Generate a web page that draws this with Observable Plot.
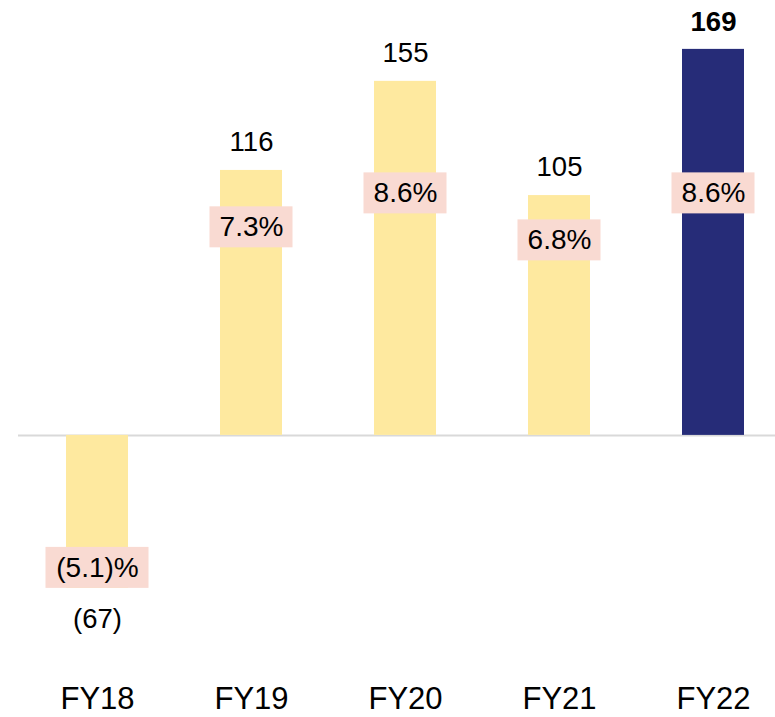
<!DOCTYPE html>
<html>
<head>
<meta charset="utf-8">
<script src="https://cdn.jsdelivr.net/npm/d3@7"></script>
<script src="https://cdn.jsdelivr.net/npm/@observablehq/plot@0.6"></script>
<style>
  html, body { margin: 0; padding: 0; background: #ffffff; }
  #chart svg { display: block; }
</style>
</head>
<body>
<div id="chart"></div>
<script>
const years = ["FY18", "FY19", "FY20", "FY21", "FY22"];
const values = [-67, 116, 155, 105, 169];
const valueLabels = ["(67)", "116", "155", "105", "169"];
const margins = [-5.1, 7.3, 8.6, 6.8, 8.6];
const marginLabels = ["(5.1)%", "7.3%", "8.6%", "6.8%", "8.6%"];
const highlighted = [false, false, false, false, true];

const YELLOW = "#FEE99F";
const NAVY = "#262C78";
const PINK = "#F9DAD2";
const FONT = "'Liberation Sans', Arial, Helvetica, sans-serif";

// margin % labels sit on a secondary scale aligned with the bar axis
const pctToY = p => 7.66 + 11.43 * p;

const data = years.map((year, i) => ({
  year,
  value: values[i],
  label: valueLabels[i],
  pct: margins[i],
  pctLabel: marginLabels[i],
  hi: highlighted[i],
  pctY: margins[i] >= 0 ? pctToY(margins[i]) : values[i] + 9
}));

const pos = data.filter(d => d.value >= 0 && !d.hi);
const hi = data.filter(d => d.hi);
const neg = data.filter(d => d.value < 0);
const pctPos = data.filter(d => d.pct >= 0);
const pctNeg = data.filter(d => d.pct < 0);

const chart = Plot.plot({
  width: 775,
  height: 717,
  marginTop: 0,
  marginBottom: 0,
  marginLeft: 34,
  marginRight: 0,
  style: { fontFamily: FONT, background: "#ffffff" },
  x: { type: "band", domain: years, paddingInner: 0.6, paddingOuter: 0.2, axis: null },
  y: { domain: [-123.5, 190.4], axis: null },
  marks: [
    Plot.ruleY([0], { stroke: "#D9D9D9", strokeWidth: 2, insetLeft: -16 }),
    Plot.barY(data, { x: "year", y: "value", fill: d => d.hi ? NAVY : YELLOW }),
    Plot.rect(pctPos, { x: "year", y1: "pctY", y2: "pctY", fill: PINK,
      insetLeft: -10.5, insetRight: -10.5, insetTop: -20.5, insetBottom: -20.5 }),
    Plot.rect(pctNeg, { x: "year", y1: "pctY", y2: "pctY", fill: PINK,
      insetLeft: -20.5, insetRight: -20.5, insetTop: -20.5, insetBottom: -20.5 }),
    Plot.text(data, { x: "year", y: "pctY", text: "pctLabel", fontSize: 28,
      fill: "#000000", lineAnchor: "middle" }),
    Plot.text(pos, { x: "year", y: "value", text: "label", fontSize: 27.5,
      fill: "#000000", lineAnchor: "middle", dy: -28 }),
    Plot.text(hi, { x: "year", y: "value", text: "label", fontSize: 27.5, fontWeight: "bold",
      fill: "#000000", lineAnchor: "middle", dy: -27 }),
    Plot.text(neg, { x: "year", y: "value", text: "label", fontSize: 27.5,
      fill: "#000000", lineAnchor: "middle", dy: 31 }),
    Plot.text(data, { x: "year", text: "year", frameAnchor: "bottom", fontSize: 31,
      fill: "#000000", lineAnchor: "middle", dy: -18 })
  ]
});

document.getElementById("chart").appendChild(chart);
</script>
</body>
</html>
